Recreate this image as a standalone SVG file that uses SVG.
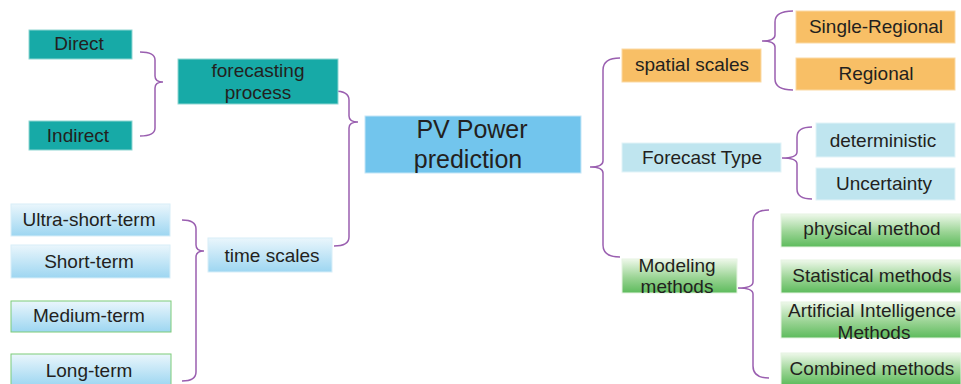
<svg xmlns="http://www.w3.org/2000/svg" width="961" height="384" viewBox="0 0 961 384">
  <defs>
    <linearGradient id="gBlue" x1="0" y1="0" x2="0" y2="1">
      <stop offset="0" stop-color="#eaf6fc"/>
      <stop offset="1" stop-color="#9dd6f1"/>
    </linearGradient>
    <linearGradient id="gGreen" x1="0" y1="0" x2="0" y2="1">
      <stop offset="0" stop-color="#eef8ea"/>
      <stop offset="0.55" stop-color="#9ad494"/>
      <stop offset="1" stop-color="#5dbb5c"/>
    </linearGradient>
    <style>
      text { font-family: "Liberation Sans", Arial, sans-serif; font-size: 19px; fill: #231f20; text-anchor: middle; }
      .teal { fill: #17aaa7; stroke: #8fd6d2; stroke-width: 1; }
      .orange { fill: #f8bf66; stroke: #fbd9a3; stroke-width: 1; }
      .lblue { fill: #bfe5ef; stroke: #e2f3f8; stroke-width: 1; }
      .grad-blue { fill: url(#gBlue); stroke: #d8eef8; stroke-width: 1; }
      .grad-blue-g { fill: url(#gBlue); stroke: #7ccc78; stroke-width: 1; }
      .grad-green { fill: url(#gGreen); stroke: #e6f4e2; stroke-width: 1; }
      .main { fill: #72c5ed; stroke: #c4e6f7; stroke-width: 1; }
      .brace { fill: none; stroke: #9a5fb0; stroke-width: 1.5; }
      .big { font-size: 25px; }
    </style>
  </defs>

  <!-- connectors: curly braces -->
  <g id="connectors">
    <path class="brace" d="M140,52 Q155,52 155,60 L155,76 Q155,82 163,82 Q155,82 155,88 L155,128 Q155,136 140,136"/>
    <path class="brace" d="M334,91 Q349,91 349,100 L349,116 Q349,122 358,122 Q349,122 349,128 L349,237 Q349,246 334,246"/>
    <path class="brace" d="M182,220 Q196,220 196,229 L196,245 Q196,251 204,251 Q196,251 196,257 L196,372 Q196,381 182,381"/>
    <path class="brace" d="M620,58 Q603,58 603,70 L603,161 Q603,167 590,167 Q603,167 603,173 L603,245 Q603,257 620,257"/>
    <path class="brace" d="M793,11 Q775,11 775,22 L775,35 Q775,41 762,41 Q775,41 775,47 L775,79 Q775,90 793,90"/>
    <path class="brace" d="M812,127 Q797,127 797,137 L797,152 Q797,158 782,158 Q797,158 797,164 L797,189 Q797,199 812,199"/>
    <path class="brace" d="M769,210 Q753,210 753,222 L753,282 Q753,288 738,288 Q753,288 753,294 L753,366 Q753,378 769,378"/>
  </g>

  <g id="direct">
    <rect class="teal" x="29" y="30" width="103" height="29"/>
    <text x="79" y="50">Direct</text>
  </g>
  <g id="indirect">
    <rect class="teal" x="29" y="121" width="103" height="29"/>
    <text x="78" y="142">Indirect</text>
  </g>
  <g id="forecasting-process">
    <rect class="teal" x="178" y="59" width="160" height="45"/>
    <text x="258" y="77">forecasting</text>
    <text x="258" y="99">process</text>
  </g>

  <g id="ultra-short-term">
    <rect class="grad-blue" x="11" y="204" width="159" height="32"/>
    <text x="89" y="226">Ultra-short-term</text>
  </g>
  <g id="short-term">
    <rect class="grad-blue" x="11" y="245" width="159" height="33"/>
    <text x="89" y="268">Short-term</text>
  </g>
  <g id="medium-term">
    <rect class="grad-blue-g" x="11" y="301" width="160" height="31"/>
    <text x="89" y="322">Medium-term</text>
  </g>
  <g id="long-term">
    <rect class="grad-blue-g" x="11" y="354" width="160" height="32"/>
    <text x="89" y="377">Long-term</text>
  </g>
  <g id="time-scales">
    <rect class="grad-blue" x="208" y="238" width="124" height="34"/>
    <text x="272" y="262">time scales</text>
  </g>

  <g id="pv-power-prediction">
    <rect class="main" x="365" y="116" width="216" height="57"/>
    <text class="big" x="472" y="138">PV Power</text>
    <text class="big" x="468" y="168">prediction</text>
  </g>

  <g id="spatial-scales">
    <rect class="orange" x="622" y="49" width="139" height="33"/>
    <text x="692" y="71">spatial scales</text>
  </g>
  <g id="single-regional">
    <rect class="orange" x="796" y="11" width="159" height="32"/>
    <text x="876" y="33">Single-Regional</text>
  </g>
  <g id="regional">
    <rect class="orange" x="796" y="58" width="159" height="32"/>
    <text x="876" y="80">Regional</text>
  </g>

  <g id="forecast-type">
    <rect class="lblue" x="622" y="143" width="159" height="29"/>
    <text x="702" y="164">Forecast Type</text>
  </g>
  <g id="deterministic">
    <rect class="lblue" x="816" y="123" width="139" height="34"/>
    <text x="883" y="147">deterministic</text>
  </g>
  <g id="uncertainty">
    <rect class="lblue" x="816" y="168" width="139" height="32"/>
    <text x="884" y="190">Uncertainty</text>
  </g>

  <g id="modeling-methods">
    <rect class="grad-green" x="622" y="259" width="115" height="34"/>
    <text x="677" y="272">Modeling</text>
    <text x="677" y="293">methods</text>
  </g>
  <g id="physical-method">
    <rect class="grad-green" x="781" y="214" width="180" height="33"/>
    <text x="872" y="235">physical method</text>
  </g>
  <g id="statistical-methods">
    <rect class="grad-green" x="781" y="260" width="180" height="33"/>
    <text x="872" y="282">Statistical methods</text>
  </g>
  <g id="ai-methods">
    <rect class="grad-green" x="781" y="302" width="180" height="36"/>
    <text x="872" y="317">Artificial Intelligence</text>
    <text x="874" y="339">Methods</text>
  </g>
  <g id="combined-methods">
    <rect class="grad-green" x="781" y="353" width="180" height="32"/>
    <text x="872" y="375">Combined methods</text>
  </g>
</svg>
